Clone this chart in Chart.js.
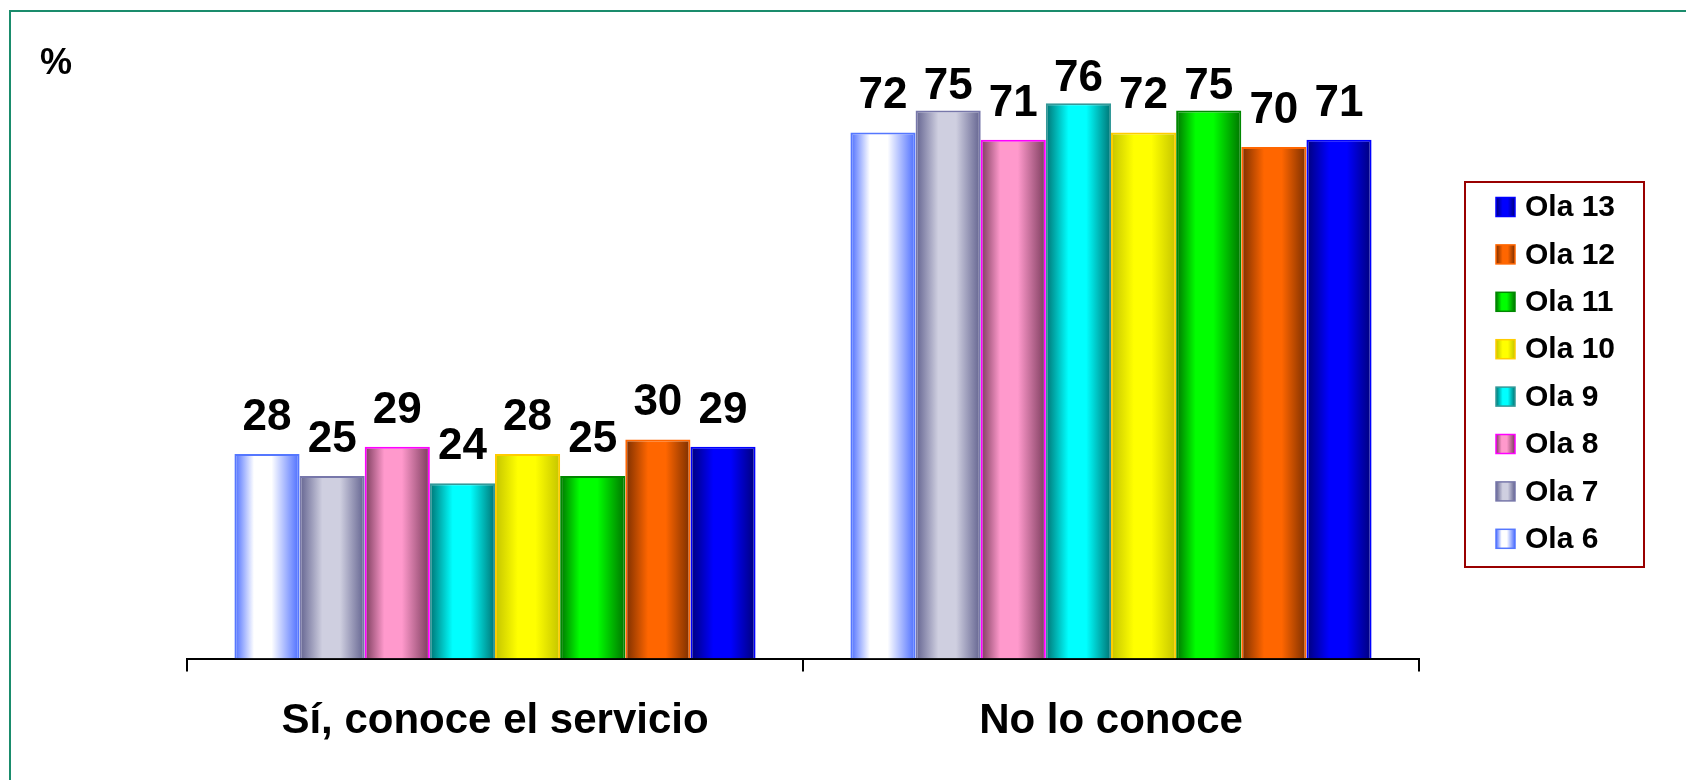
<!DOCTYPE html>
<html>
<head>
<meta charset="utf-8">
<title>Conoce el servicio</title>
<script src="https://cdn.jsdelivr.net/npm/chart.js@4/dist/chart.umd.min.js"></script>
<style>
  html, body { margin: 0; padding: 0; background: #fff; }
  #wrap { position: relative; width: 1686px; height: 780px; overflow: hidden; }
  #frame { position: absolute; left: 9px; top: 10px; width: 2000px; height: 1000px;
           border-top: 2px solid #1a8c6c; border-left: 2px solid #1a8c6c; }
  canvas { position: absolute; left: 0; top: 0; }
</style>
</head>
<body>
<div id="wrap">
  <div id="frame"></div>
  <canvas id="chart" width="1686" height="780"></canvas>
</div>
<script>
  // Chart data
  const categories = ['Sí, conoce el servicio', 'No lo conoce'];
  const seriesNames = ['Ola 6', 'Ola 7', 'Ola 8', 'Ola 9', 'Ola 10', 'Ola 11', 'Ola 12', 'Ola 13'];
  const ola6 = [28, 72];
  const ola7 = [25, 75];
  const ola8 = [29, 71];
  const ola9 = [24, 76];
  const ola10 = [28, 72];
  const ola11 = [25, 75];
  const ola12 = [30, 70];
  const ola13 = [29, 71];
  const seriesValues = [ola6, ola7, ola8, ola9, ola10, ola11, ola12, ola13];

  // Cylinder-like shading: edge colour, centre colour, border colour
  const palette = [
    { edge: '#4a6cff', center: '#ffffff', border: '#5577ff', mid: 0.45 },
    { edge: '#62628f', center: '#cfcfe0', border: '#7777aa', mid: 0.5 },
    { edge: '#7a3c5c', center: '#ff99cc', border: '#ff00ff', mid: 0.45 },
    { edge: '#007474', center: '#00ffff', border: '#339999', mid: 0.5 },
    { edge: '#c4c400', center: '#ffff00', border: '#ffcc00', mid: 0.5 },
    { edge: '#007400', center: '#00ff00', border: '#008800', mid: 0.45 },
    { edge: '#7a2e00', center: '#ff6600', border: '#ff6600', mid: 0.5 },
    { edge: '#00007a', center: '#0000ff', border: '#0000ff', mid: 0.5 }
  ];

  const FONT = '"Liberation Sans", Arial, sans-serif';

  function makeGradient(ctx, left, right, p) {
    const g = ctx.createLinearGradient(left, 0, right, 0);
    g.addColorStop(0, p.edge);
    g.addColorStop(Math.max(0, p.mid - 0.15), p.center);
    g.addColorStop(Math.min(1, p.mid + 0.12), p.center);
    g.addColorStop(1, p.edge);
    return g;
  }

  // Paint each bar with a horizontal gradient based on its own geometry
  const shadePlugin = {
    id: 'shade',
    beforeDatasetsDraw(chart) {
      const ctx = chart.ctx;
      chart.data.datasets.forEach((ds, i) => {
        const meta = chart.getDatasetMeta(i);
        meta.data.forEach(el => {
          const left = el.x - el.width / 2;
          const right = el.x + el.width / 2;
          el.options.backgroundColor = makeGradient(ctx, left, right, palette[i]);
        });
      });
    }
  };

  // Value labels above bars, pulled closer when near the top of the plot
  const valueLabels = {
    id: 'valueLabels',
    afterDatasetsDraw(chart) {
      const ctx = chart.ctx;
      ctx.save();
      ctx.font = 'bold 44px ' + FONT;
      ctx.fillStyle = '#000';
      ctx.textAlign = 'center';
      ctx.textBaseline = 'alphabetic';
      chart.data.datasets.forEach((ds, i) => {
        const meta = chart.getDatasetMeta(i);
        meta.data.forEach((el, j) => {
          let gap = 24;
          if (el.y - gap - 31 < 62) gap = 12;
          ctx.fillText(String(ds.data[j]), el.x, el.y - gap);
        });
      });
      ctx.restore();
    }
  };

  // Boxed legend on the right, newest wave on top, plus the "%" unit
  const boxLegend = {
    id: 'boxLegend',
    afterDraw(chart) {
      const ctx = chart.ctx;
      ctx.save();
      ctx.fillStyle = '#000';
      ctx.font = 'bold 36px ' + FONT;
      ctx.textAlign = 'left';
      ctx.textBaseline = 'alphabetic';
      ctx.fillText('%', 40, 74);

      const bx = 1465, by = 182, bw = 179, bh = 385;
      ctx.strokeStyle = '#990000';
      ctx.lineWidth = 2;
      ctx.strokeRect(bx, by, bw, bh);

      ctx.font = 'bold 30px ' + FONT;
      ctx.textBaseline = 'middle';
      const n = chart.data.datasets.length;
      for (let k = 0; k < n; k++) {
        const i = n - 1 - k;
        const cy = 207 + k * 47.4;
        const sx = 1496, sz = 19;
        ctx.fillStyle = makeGradient(ctx, sx, sx + sz, palette[i]);
        ctx.fillRect(sx, cy - sz / 2, sz, sz);
        ctx.strokeStyle = palette[i].border;
        ctx.lineWidth = 1.5;
        ctx.strokeRect(sx, cy - sz / 2, sz, sz);
        ctx.fillStyle = '#000';
        ctx.fillText(chart.data.datasets[i].label, 1525, cy + 1);
      }
      ctx.restore();
    }
  };

  const datasets = seriesNames.map((name, i) => ({
    label: name,
    data: seriesValues[i],
    backgroundColor: () => palette[i].center,
    borderColor: palette[i].border,
    borderWidth: 2,
    borderSkipped: 'bottom',
    barPercentage: 1.0,
    categoryPercentage: 0.846
  }));

  new Chart(document.getElementById('chart'), {
    type: 'bar',
    data: { labels: categories, datasets: datasets },
    options: {
      responsive: false,
      animation: false,
      devicePixelRatio: 1,
      layout: { padding: { left: 187, right: 267, top: 74, bottom: 8 } },
      plugins: {
        legend: { display: false },
        tooltip: { enabled: false },
        title: { display: false }
      },
      scales: {
        x: {
          grid: {
            display: true,
            offset: true,
            drawOnChartArea: false,
            drawTicks: true,
            tickLength: 13,
            color: '#000',
            lineWidth: 2
          },
          border: { display: true, color: '#000', width: 2 },
          ticks: {
            color: '#000',
            font: { family: FONT, size: 42, weight: 'bold' },
            padding: 25
          }
        },
        y: {
          display: false,
          min: 0,
          max: 80
        }
      }
    },
    plugins: [shadePlugin, valueLabels, boxLegend]
  });
</script>
</body>
</html>
